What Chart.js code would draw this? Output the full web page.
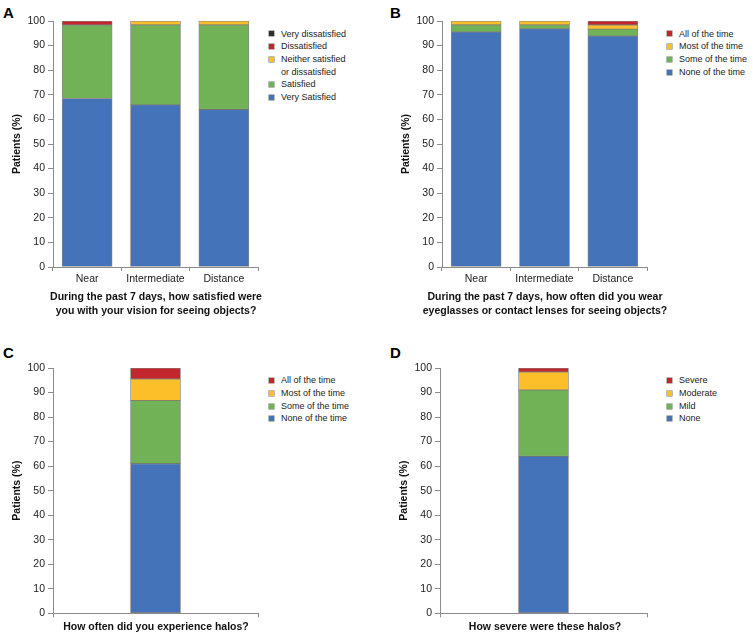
<!DOCTYPE html>
<html>
<head>
<meta charset="utf-8">
<script src="https://cdn.jsdelivr.net/npm/chart.js@4.4.1/dist/chart.umd.min.js"></script>
<style>
  body { margin: 0; background: #fff; font-family: "Liberation Sans", Arial, sans-serif; }
  #page { position: relative; width: 753px; height: 635px; overflow: hidden; }
  canvas { position: absolute; }
  .letter { position: absolute; font-weight: bold; font-size: 15px; color: #000; line-height: 15px; }
  .legend { position: absolute; font-size: 9px; color: #222; line-height: 12.7px; }
  .legend .item { position: relative; padding-left: 12px; white-space: pre-line; }
  .legend .box { position: absolute; left: 0; top: 3.8px; width: 5px; height: 5px; box-shadow: 0 0 0 0.6px #8a8a8a; }
  .xtitle { position: absolute; width: 320px; margin-left: -160px; text-align: center; font-weight: bold;
            font-size: 10.5px; line-height: 14.2px; color: #111; white-space: pre-line; }
</style>
</head>
<body>
<div id="page">
  <div class="letter" style="left:3px;top:5px">A</div>
  <div class="letter" style="left:390px;top:5px">B</div>
  <div class="letter" style="left:3px;top:345px">C</div>
  <div class="letter" style="left:390px;top:345px">D</div>

  <canvas id="chartA" width="265" height="318" style="left:0;top:0"></canvas>
  <canvas id="chartB" width="265" height="318" style="left:389px;top:0"></canvas>
  <canvas id="chartC" width="265" height="288" style="left:0;top:347px"></canvas>
  <canvas id="chartD" width="267" height="288" style="left:387px;top:347px"></canvas>

  <div class="legend" id="legendA" style="left:269px;top:27.6px"></div>
  <div class="legend" id="legendB" style="left:667px;top:27.6px"></div>
  <div class="legend" id="legendC" style="left:269px;top:374.3px"></div>
  <div class="legend" id="legendD" style="left:667px;top:374.3px"></div>

  <div class="xtitle" id="titleA" style="left:156px;top:289px"></div>
  <div class="xtitle" id="titleB" style="left:545px;top:289px"></div>
  <div class="xtitle" id="titleC" style="left:156px;top:619px"></div>
  <div class="xtitle" id="titleD" style="left:545px;top:619px"></div>
</div>
<script>
// A: satisfaction with vision
const visionCategories = ['Near', 'Intermediate', 'Distance'];
const satisfactionLabels = ['Very Satisfied', 'Satisfied', 'Neither satisfied\nor dissatisfied', 'Dissatisfied', 'Very dissatisfied'];
const verySatisfied = [68.5, 65.9, 64.0];
const satisfied = [29.9, 32.5, 34.4];
const neitherSatisfied = [0, 1.6, 1.6];
const dissatisfied = [1.6, 0, 0];
const veryDissatisfied = [0, 0, 0];

// B: wearing eyeglasses / contact lenses
const eyewearLabels = ['None of the time', 'Some of the time', 'Most of the time', 'All of the time'];
const eyewearNone = [95.5, 96.8, 93.9];
const eyewearSome = [2.9, 1.6, 2.8];
const eyewearMost = [1.6, 1.6, 1.7];
const eyewearAll = [0, 0, 1.6];

// C: halo frequency
const halosFreqCategories = [''];
const halosFreqLabels = ['None of the time', 'Some of the time', 'Most of the time', 'All of the time'];
const halosNone = [61.0];
const halosSome = [25.7];
const halosMost = [8.8];
const halosAll = [4.5];

// D: halo severity
const halosSevCategories = [''];
const halosSevLabels = ['None', 'Mild', 'Moderate', 'Severe'];
const severityNone = [64.0];
const severityMild = [27.0];
const severityModerate = [7.4];
const severitySevere = [1.6];

const yTicks = [0, 10, 20, 30, 40, 50, 60, 70, 80, 90, 100];

const BLUE = '#4573b9', GREEN = '#70b255', YELLOW = '#fcbf2a', RED = '#c4262d', DARK = '#2e2e2e';
const FONT = '"Liberation Sans", Arial, sans-serif';
const AXIS = '#8c8c8c';

function makeChart(canvasId, legendId, titleId, categories, series, labels, colors, xTitle, xHeight) {
    const datasets = series.map((values, i) => ({
        label: labels[i],
        data: values,
        backgroundColor: colors[i],
        borderColor: 'rgba(95,95,95,0.75)',
        borderWidth: 0.8,
        borderSkipped: false,
        barThickness: 50
    }));

    new Chart(document.getElementById(canvasId), {
        type: 'bar',
        data: { labels: categories, datasets: datasets },
        options: {
            responsive: false,
            animation: false,
            layout: { padding: { top: 21, right: 7, left: 0, bottom: 0 } },
            plugins: { legend: { display: false }, tooltip: { enabled: false } },
            scales: {
                x: {
                    stacked: true,
                    ticks: { padding: 2, color: '#222', font: { family: FONT, size: 10.5 } },
                    grid: { drawOnChartArea: false, tickLength: 4, color: AXIS, offset: true },
                    border: { color: AXIS },
                    afterFit(scale) { scale.height = xHeight; }
                },
                y: {
                    stacked: true, min: 0, max: 100,
                    afterBuildTicks(scale) { scale.ticks = yTicks.map(v => ({ value: v })); },
                    ticks: { padding: 3, color: '#222', font: { family: FONT, size: 10.5 } },
                    grid: { drawOnChartArea: false, tickLength: 5, color: AXIS },
                    border: { color: AXIS },
                    title: {
                        display: true, text: 'Patients (%)', color: '#111',
                        font: { family: FONT, size: 10.5, weight: 'bold' },
                        padding: { top: 11, bottom: 0 }
                    },
                    afterFit(scale) { scale.width = 53; }
                }
            }
        }
    });

    document.getElementById(titleId).textContent = xTitle;

    // legend, top item = last stacked series
    const legend = document.getElementById(legendId);
    for (let i = labels.length - 1; i >= 0; i--) {
        const item = document.createElement('div');
        item.className = 'item';
        const box = document.createElement('span');
        box.className = 'box';
        box.style.background = colors[i];
        item.appendChild(box);
        item.appendChild(document.createTextNode(labels[i]));
        legend.appendChild(item);
    }
}

makeChart('chartA', 'legendA', 'titleA', visionCategories,
    [verySatisfied, satisfied, neitherSatisfied, dissatisfied, veryDissatisfied],
    satisfactionLabels, [BLUE, GREEN, YELLOW, RED, DARK],
    'During the past 7 days, how satisfied were\nyou with your vision for seeing objects?', 51);

makeChart('chartB', 'legendB', 'titleB', visionCategories,
    [eyewearNone, eyewearSome, eyewearMost, eyewearAll],
    eyewearLabels, [BLUE, GREEN, YELLOW, RED],
    'During the past 7 days, how often did you wear\neyeglasses or contact lenses for seeing objects?', 51);

makeChart('chartC', 'legendC', 'titleC', halosFreqCategories,
    [halosNone, halosSome, halosMost, halosAll],
    halosFreqLabels, [BLUE, GREEN, YELLOW, RED],
    'How often did you experience halos?', 21.7);

makeChart('chartD', 'legendD', 'titleD', halosSevCategories,
    [severityNone, severityMild, severityModerate, severitySevere],
    halosSevLabels, [BLUE, GREEN, YELLOW, RED],
    'How severe were these halos?', 21.7);
</script>
</body>
</html>
